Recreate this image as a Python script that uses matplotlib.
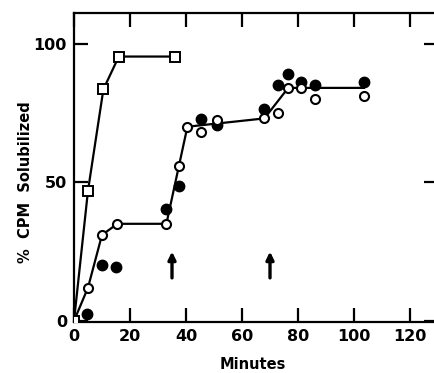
import matplotlib
matplotlib.use("Agg")
import matplotlib.pyplot as plt

# Data
sq_x = [0, 5, 10.5, 16, 36]
sq_y = [0, 47, 83.5, 95.3, 95.3]

fit_x = [0, 5, 10, 15.5, 33, 37.5, 40.5, 68, 76.5, 103.5]
fit_y = [0, 12, 31, 35, 35, 56, 70, 73, 84, 84]

open_x = [0, 5, 10, 15.5, 33, 37.5, 40.5, 45.5, 51, 68, 73, 76.5, 81, 86, 103.5]
open_y = [0, 12, 31, 35, 35, 56, 70, 68, 72.5, 73, 75, 84, 84, 80, 81]

fill_x = [4.6, 10, 15, 33, 37.5, 45.5, 51, 68, 73, 76.5, 81, 86, 103.5]
fill_y = [2.4, 20, 19.3, 40.3, 48.6, 72.7, 70.5, 76.3, 85, 89, 86.3, 85, 86.3]

arrow_x = [35, 70]
arrow_y0, arrow_y1 = 15.5, 25

xticks = [0, 20, 40, 60, 80, 100, 120]
yticks = [0, 50, 100]

fig = plt.figure(figsize=(4.34, 3.73), dpi=100)
ax = fig.add_axes([74/434, 51/373, 364/434, 309/373])
ax.set_xlim(0, 130)
ax.set_ylim(-0.4, 111)

lw = 1.6
ax.plot(fit_x, fit_y, color='black', lw=lw, zorder=2)
ax.plot(fill_x, fill_y, linestyle='none', marker='o', markersize=7.5,
        markerfacecolor='black', markeredgecolor='black', zorder=4)
ax.plot(open_x, open_y, linestyle='none', marker='o', markersize=6.5,
        markerfacecolor='white', markeredgecolor='black', markeredgewidth=1.5, zorder=5)
ax.plot(sq_x, sq_y, color='black', lw=lw, marker='s', markersize=7,
        markerfacecolor='white', markeredgecolor='black', markeredgewidth=1.4, zorder=6)

for xa in arrow_x:
    ax.annotate('', xy=(xa, arrow_y1), xytext=(xa, arrow_y0),
                arrowprops=dict(arrowstyle='-|>,head_length=0.45,head_width=0.22',
                                color='black', lw=2.4, shrinkA=0, shrinkB=0))

for s in ax.spines.values():
    s.set_linewidth(1.6)
ax.spines['right'].set_visible(False)

ax.set_xticks(xticks)
ax.set_yticks(yticks)
ax.tick_params(axis='both', direction='in', width=1.6, labelsize=11.5)
ax.tick_params(axis='x', length=10, top=True, pad=5)
ax.tick_params(axis='y', length=10, right=True, pad=5)
for lab in ax.get_xticklabels() + ax.get_yticklabels():
    lab.set_fontweight('bold')

ax.set_xlabel('Minutes', fontsize=10.5, fontweight='bold')
ax.xaxis.set_label_coords(0.49, -0.112)
ax.set_ylabel('%  CPM  Solubilized', fontsize=10.5, fontweight='bold')
ax.yaxis.set_label_coords(-0.113, 0.453)

fig.savefig('out.png', dpi=100)
